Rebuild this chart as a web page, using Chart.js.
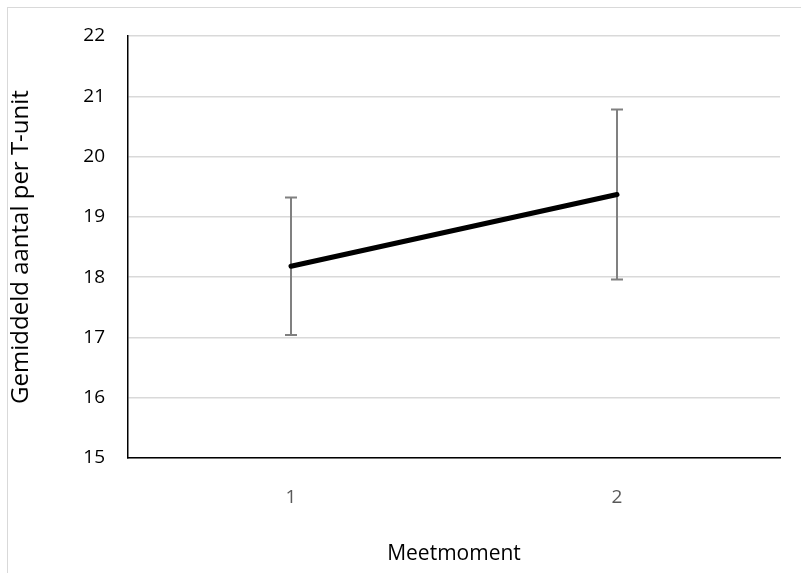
<!DOCTYPE html>
<html>
<head>
<meta charset="utf-8">
<script src="https://cdn.jsdelivr.net/npm/chart.js@4/dist/chart.umd.min.js"></script>
<style>
  html, body { margin: 0; padding: 0; background: #fff; }
  #wrap { position: relative; width: 801px; height: 573px; overflow: hidden; }
  #frame { position: absolute; left: 7px; top: 7px; width: 900px; height: 700px;
           border-top: 1.5px solid #d9d9d9; border-left: 1.5px solid #d9d9d9; }
  canvas { position: absolute; left: 0; top: 0; }
</style>
</head>
<body>
<div id="wrap">
  <div id="frame"></div>
  <canvas id="chart" width="801" height="573"></canvas>
</div>
<script>
const categories = ["1", "2"];
const means = [18.18, 19.37];
const errLow = [17.04, 17.96];
const errHigh = [19.32, 20.78];
const yMin = 15, yMax = 22, yStep = 1;

const font = "'Open Sans', sans-serif";

// error bars drawn under the line, positioned through the chart's scales
const errorBars = {
    id: "errorBars",
    beforeDatasetsDraw(chart) {
        const ctx = chart.ctx;
        const x = chart.scales.x, y = chart.scales.y;
        ctx.save();
        ctx.strokeStyle = "#808080";
        ctx.lineWidth = 2;
        categories.forEach((c, i) => {
            const px = x.getPixelForValue(i);
            const top = y.getPixelForValue(errHigh[i]);
            const bot = y.getPixelForValue(errLow[i]);
            ctx.beginPath();
            ctx.moveTo(px, top); ctx.lineTo(px, bot);
            ctx.moveTo(px - 6, top); ctx.lineTo(px + 6, top);
            ctx.moveTo(px - 6, bot); ctx.lineTo(px + 6, bot);
            ctx.stroke();
        });
        ctx.restore();
    }
};

new Chart(document.getElementById("chart"), {
    type: "line",
    data: {
        labels: categories,
        datasets: [{
            data: means,
            borderColor: "#000",
            borderWidth: 5,
            borderCapStyle: "round",
            pointRadius: 0,
            tension: 0
        }]
    },
    options: {
        responsive: false,
        animation: false,
        layout: { padding: { left: 0, top: 36, right: 21, bottom: 0 } },
        plugins: { legend: { display: false }, tooltip: { enabled: false } },
        scales: {
            x: {
                offset: true,
                grid: { display: false },
                border: { display: true, color: "#000", width: 1.5 },
                ticks: { color: "#595959", font: { family: font, size: 19 }, padding: 20 },
                title: { display: true, text: "Meetmoment", color: "#000",
                         font: { family: font, size: 21 }, padding: { top: 0, bottom: 6 } },
                afterFit(s) { s.height = 115; }
            },
            y: {
                min: yMin, max: yMax,
                grid: { color: "#d9d9d9", lineWidth: 1.5, drawTicks: false },
                border: { display: true, color: "#000", width: 1.5 },
                ticks: { stepSize: yStep, color: "#000", font: { family: font, size: 19 }, padding: 23 },
                title: { display: true, text: "Gemiddeld aantal per T-unit", color: "#000",
                         font: { family: font, size: 24 }, padding: { top: 7, bottom: 0 } },
                afterFit(s) { s.width = 128; }
            }
        }
    },
    plugins: [errorBars]
});
</script>
</body>
</html>
